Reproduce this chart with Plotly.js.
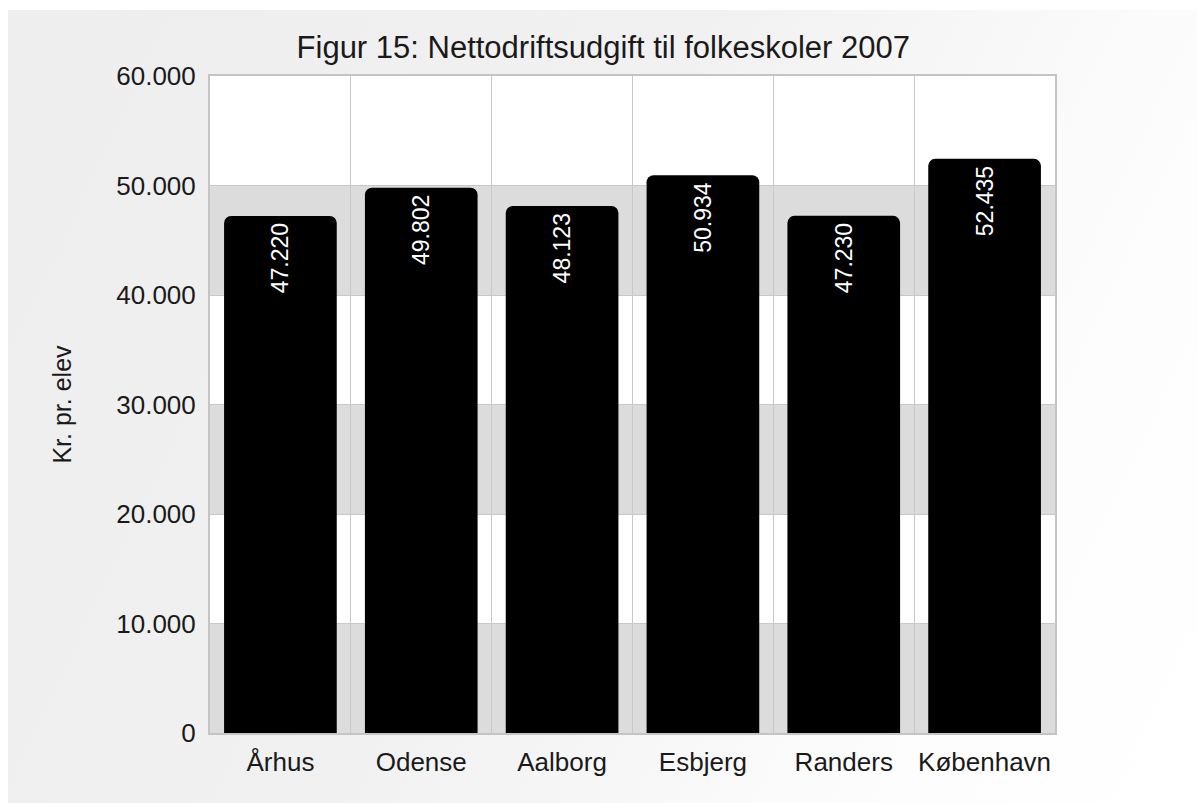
<!DOCTYPE html>
<html>
<head>
<meta charset="utf-8">
<script src="https://cdn.plot.ly/plotly-3.0.1.min.js"></script>
<style>
  html, body { margin: 0; padding: 0; background: #ffffff; width: 1197px; height: 803px; overflow: hidden; }
  #bg { position: absolute; left: 8px; top: 10px; right: 0; bottom: 0;
        background: linear-gradient(115deg, #eeeeee 0%, #f1f1f1 45%, #fdfdfd 80%, #ffffff 100%); }
  #chart { position: absolute; left: 0; top: 0; width: 1197px; height: 803px; }
</style>
</head>
<body>
<div id="bg"></div>
<div id="chart"></div>
<script>
const categories = ["Århus", "Odense", "Aalborg", "Esbjerg", "Randers", "København"];
const values = [47220, 49802, 48123, 50934, 47230, 52435];
const chartTitle = "Figur 15: Nettodriftsudgift til folkeskoler 2007";
const yTitle = "Kr. pr. elev";
const bandRanges = [[0, 10000], [20000, 30000], [40000, 50000]];

const font = '"Liberation Sans", Arial, Helvetica, sans-serif';

const trace = {
  type: 'bar',
  x: categories,
  y: values,
  marker: { color: '#000000', cornerradius: 7, line: { width: 0 } },
  texttemplate: '%{y:,}',
  textposition: 'inside',
  insidetextanchor: 'end',
  textangle: -90,
  insidetextfont: { family: font, size: 23, color: '#ffffff' },
  hoverinfo: 'skip'
};

const shapes = bandRanges.map(r => ({
  type: 'rect', xref: 'paper', yref: 'y', x0: 0, x1: 1, y0: r[0], y1: r[1],
  fillcolor: '#dcdcdc', line: { width: 0 }, layer: 'below'
}));

const layout = {
  width: 1197, height: 803,
  margin: { l: 210, r: 142, t: 76, b: 70 },
  paper_bgcolor: 'rgba(0,0,0,0)',
  plot_bgcolor: '#ffffff',
  separators: ',.',
  font: { family: font, color: '#1a1a1a' },
  showlegend: false,
  bargap: 0.2,
  title: { text: chartTitle, font: { family: font, size: 31, color: '#1a1a1a' },
           x: 0.504, xref: 'container', xanchor: 'center', y: 1 - 47/803, yref: 'container', yanchor: 'middle' },
  xaxis: {
    type: 'category',
    tickson: 'boundaries',
    tickangle: 0,
    showgrid: true, gridcolor: '#c8c8c8', gridwidth: 1,
    showline: true, mirror: true, linecolor: '#c4c4c4', linewidth: 2,
    ticks: '', ticklen: 0,
    tickfont: { family: font, size: 26, color: '#1a1a1a' },
    ticklabelstandoff: 5,
    fixedrange: true
  },
  yaxis: {
    range: [0, 60000], dtick: 10000, tick0: 0,
    tickformat: ',d',
    showgrid: true, gridcolor: '#c8c8c8', gridwidth: 1,
    zeroline: false,
    showline: true, mirror: true, linecolor: '#c4c4c4', linewidth: 2,
    ticks: '',
    tickfont: { family: font, size: 26, color: '#1a1a1a' },
    ticklabelstandoff: 7,
    title: { text: yTitle, font: { family: font, size: 25, color: '#1a1a1a' }, standoff: 38 },
    fixedrange: true
  },
  shapes: shapes
};

Plotly.newPlot('chart', [trace], layout, { displayModeBar: false, staticPlot: true });
</script>
</body>
</html>
